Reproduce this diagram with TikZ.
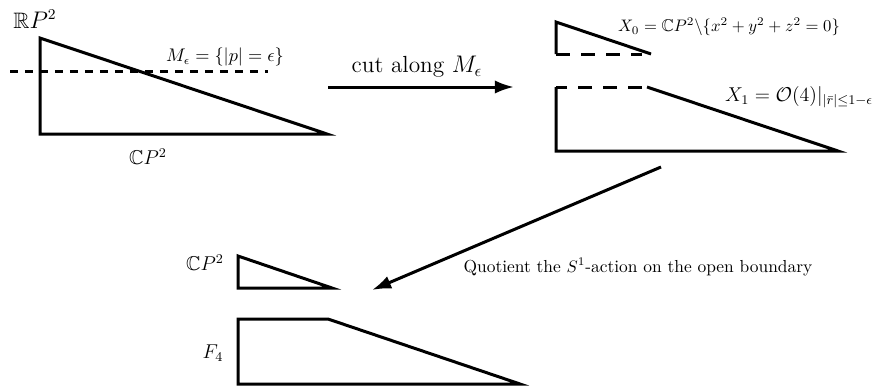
\documentclass[tikz,border=0pt]{standalone}
\usepackage{amssymb}
\usetikzlibrary{arrows.meta}
\begin{document}
\begin{tikzpicture}[x=0.6pt,y=-0.6pt,
  outline/.style={line width=1.8pt},
  cutline/.style={line width=1.8pt,dash pattern=on 4.8pt off 4.2pt},
  openedge/.style={line width=1.8pt,dash pattern=on 8.5pt off 6.5pt},
  maparrow/.style={line width=1.8pt,-{Latex[length=11.5pt,width=8pt]}},
  lbl/.style={inner sep=0pt}]
\useasboundingbox (0,0) rectangle (878,389);
% top-left triangle
\draw[outline] (40,38) -- (40,134) -- (327,134) -- cycle;
\draw[cutline] (10,71) -- (268,71);
\node[lbl,font=\fontsize{13.4}{15}\selectfont] (rp) at (35,19) {$\mathbb{R}P^2$};
\node[lbl,font=\fontsize{10.6}{12}\selectfont] (me) at (225,57) {$M_\epsilon=\{|p|=\epsilon\}$};
\node[lbl,font=\large] (cp) at (148,157) {$\mathbb{C}P^2$};
% cut arrow
\coordinate (a1s) at (328,87);
\coordinate (a1e) at (514,87);
\draw[maparrow] (a1s) -- (a1e);
\node[lbl,font=\fontsize{14}{16}\selectfont] (cut) at (417,67) {cut along $M_\epsilon$};
% top-right pieces
\draw[openedge] (556,54) -- (642,54);
\draw[outline] (556,54) -- (556,22) -- (651,54);
\node[lbl,font=\fontsize{10.2}{12}\selectfont] (x0) at (729,27) {$X_0=\mathbb{C}P^2\backslash\{x^2+y^2+z^2=0\}$};
\draw[openedge] (642,87) -- (556,87);
\draw[outline] (556,87) -- (556,151) -- (838,151) -- (647,87);
\node[lbl,font=\fontsize{12}{14}\selectfont] (x1) at (799,97) {$X_1=\mathcal{O}(4)|_{|\bar{r}|\leq 1-\epsilon}$};
% quotient arrow
\coordinate (a2s) at (661,167);
\coordinate (a2e) at (372,290);
\draw[maparrow] (a2s) -- (a2e);
\node[lbl,font=\fontsize{10.45}{12}\selectfont] (quot) at (638,267) {Quotient the $S^1$-action on the open boundary};
% bottom pieces
\draw[outline] (238,256) -- (238,288) -- (332,288) -- cycle;
\node[lbl,font=\large] (cp2) at (205,263) {$\mathbb{C}P^2$};
\draw[outline] (328,319) -- (238,319) -- (238,384) -- (520,384) -- cycle;
\node[lbl,font=\large] (f4) at (213,353) {$F_4$};
\end{tikzpicture}
\end{document}
